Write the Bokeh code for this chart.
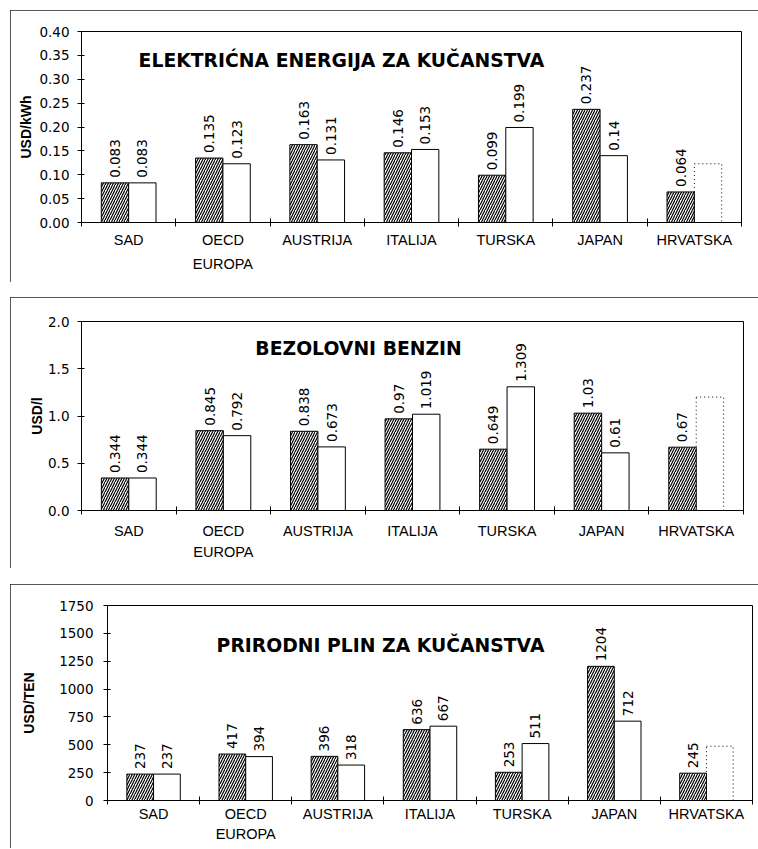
import numpy as np
from bokeh.plotting import figure
from bokeh.models import Range1d, FixedTicker, Label, ColumnDataSource, LabelSet, PrintfTickFormatter
from bokeh.core.properties import value
from bokeh.embed import file_html
from bokeh.resources import INLINE

# ---------------- data ----------------
categories = ["SAD", "OECD\nEUROPA", "AUSTRIJA", "ITALIJA", "TURSKA", "JAPAN", "HRVATSKA"]

elec_title = "ELEKTRIĆNA ENERGIJA ZA KUČANSTVA"
elec_unit = "USD/kWh"
elec_a = [0.083, 0.135, 0.163, 0.146, 0.099, 0.237, 0.064]
elec_b = [0.083, 0.123, 0.131, 0.153, 0.199, 0.14]
elec_hr_b = 0.123
elec_yticks = [0.0, 0.05, 0.10, 0.15, 0.20, 0.25, 0.30, 0.35, 0.40]

benz_title = "BEZOLOVNI BENZIN"
benz_unit = "USD/l"
benz_a = [0.344, 0.845, 0.838, 0.97, 0.649, 1.03, 0.67]
benz_b = [0.344, 0.792, 0.673, 1.019, 1.309, 0.61]
benz_hr_b = 1.2
benz_yticks = [0.0, 0.5, 1.0, 1.5, 2.0]

gas_title = "PRIRODNI PLIN ZA KUČANSTVA"
gas_unit = "USD/TEN"
gas_a = [237, 417, 396, 636, 253, 1204, 245]
gas_b = [237, 394, 318, 667, 511, 712]
gas_hr_b = 487
gas_yticks = [0, 250, 500, 750, 1000, 1250, 1500, 1750]

NUM_FONT = "DejaVu Sans"
CAT_FONT = "Liberation Sans"


def make_panel(title, unit, a, b, hr_b, yticks, yfmt, title_pos, geom):
    (height, margin_top, bl, br, bt, bb, xstd, ystd, axstd, lh) = geom
    n = len(categories)
    centers = np.arange(n) + 0.5
    half = 0.145
    bw = 0.29
    p = figure(width=748, height=height, output_backend="svg", toolbar_location=None,
               x_range=Range1d(0, n), y_range=Range1d(yticks[0], yticks[-1]),
               min_border_left=bl, min_border_right=br, min_border_top=bt, min_border_bottom=bb)
    p.margin = (margin_top, 0, 0, 10)
    p.styles = {"outline": "1px solid #222", "outline-offset": "-1px"}
    p.background_fill_color = "white"
    p.border_fill_color = "white"
    p.outline_line_color = "black"
    p.outline_line_width = 1
    p.xgrid.visible = False
    p.ygrid.visible = False

    src_a = ColumnDataSource(dict(x=centers - half, top=a, label=[str(v) for v in a]))
    src_b = ColumnDataSource(dict(x=centers[:len(b)] + half, top=b, label=[str(v) for v in b]))
    src_h = ColumnDataSource(dict(x=[centers[-1] + half], top=[hr_b]))

    p.vbar(x="x", top="top", width=bw, bottom=0, source=src_a, fill_color="white",
           line_color="black", line_width=1, hatch_pattern="/", hatch_color="black",
           hatch_scale=5, hatch_weight=1.2)
    p.vbar(x="x", top="top", width=bw, bottom=0, source=src_b, fill_color="white",
           line_color="black", line_width=1)
    p.vbar(x="x", top="top", width=bw, bottom=0, source=src_h, fill_color=None,
           line_color="black", line_width=1, line_dash="1 3")

    for src in (src_a, src_b):
        p.add_layout(LabelSet(x="x", y="top", text="label", source=src, angle=np.pi / 2,
                              text_align="left", text_baseline="middle", y_offset=5,
                              text_font=value(NUM_FONT), text_font_size=value("13.5px"),
                              text_color="black"))

    p.add_layout(Label(x=title_pos[0], y=title_pos[1], text=title, text_align="center",
                       text_baseline="middle", text_font="DejaVu Sans", text_font_style="bold",
                       text_font_size="18.8px", text_color="black"))

    # x axis: labels at centers, ticks at group boundaries
    xa = p.xaxis[0]
    xa.ticker = FixedTicker(ticks=list(centers), minor_ticks=list(np.arange(n + 1)))
    xa.major_label_overrides = {float(c): lab for c, lab in zip(centers, categories)}
    xa.major_tick_in = 0
    xa.major_tick_out = 0
    xa.minor_tick_in = 4
    xa.minor_tick_out = 4
    xa.minor_tick_line_color = "black"
    xa.axis_line_color = "black"
    xa.major_label_standoff = xstd
    xa.major_label_text_font = CAT_FONT
    xa.major_label_text_font_size = "14.5px"
    xa.major_label_text_line_height = lh
    xa.major_label_text_color = "black"

    ya = p.yaxis[0]
    ya.ticker = FixedTicker(ticks=yticks, minor_ticks=[])
    ya.formatter = PrintfTickFormatter(format=yfmt)
    ya.major_tick_in = 3
    ya.major_tick_out = 4
    ya.major_tick_line_color = "black"
    ya.axis_line_color = "black"
    ya.major_label_standoff = ystd
    ya.major_label_text_font = NUM_FONT
    ya.major_label_text_font_size = "13.5px"
    ya.major_label_text_color = "black"
    ya.axis_label = unit
    ya.axis_label_text_font = CAT_FONT
    ya.axis_label_text_font_style = "bold"
    ya.axis_label_text_font_size = "14px"
    ya.axis_label_text_color = "black"
    ya.axis_label_standoff = axstd
    return p


p1 = make_panel(elec_title, elec_unit, elec_a, elec_b, elec_hr_b, elec_yticks, "%.2f",
                (2.757, 0.339), (272, 10, 71, 17, 21, 60, 5, 8, 2, 1.5))
p2 = make_panel(benz_title, benz_unit, benz_a, benz_b, benz_hr_b, benz_yticks, "%.1f",
                (2.93, 1.714), (271, 15, 71, 15, 24, 58, 8, 8, 0, 1.35))
p3 = make_panel(gas_title, gas_unit, gas_a, gas_b, gas_hr_b, gas_yticks, "%d",
                (2.963, 1391), (264, 16, 97, 6, 21, 48, 1, 10, 19, 1.3))

open("out.html", "w").write(file_html([p1, p2, p3], INLINE))
